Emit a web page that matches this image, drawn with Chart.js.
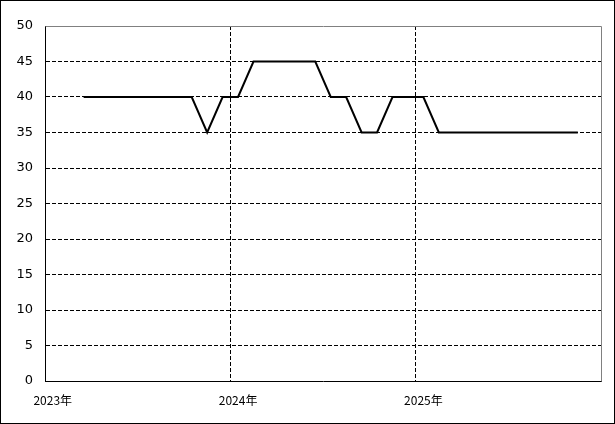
<!DOCTYPE html>
<html>
<head>
<meta charset="utf-8">
<script src="https://cdn.jsdelivr.net/npm/chart.js@4"></script>
<style>
  html, body { margin: 0; padding: 0; background: #fff; }
  #wrap { width: 615px; height: 424px; position: relative; }
</style>
</head>
<body>
<div id="wrap"><canvas id="c" width="615" height="424"></canvas></div>
<script>
// 軸のカテゴリ（2023年1月〜2025年12月の月）
const axisMonths = [];
for (let y = 2023; y <= 2025; y++) {
  for (let m = 1; m <= 12; m++) axisMonths.push(y + '-' + String(m).padStart(2, '0'));
}

// データの月と値
const dataMonths = [
  '2023-03','2023-04','2023-05','2023-06','2023-07','2023-08','2023-09','2023-10','2023-11','2023-12',
  '2024-01','2024-02','2024-03','2024-04','2024-05','2024-06','2024-07','2024-08','2024-09','2024-10',
  '2024-11','2024-12','2025-01','2025-02','2025-03','2025-04','2025-05','2025-06','2025-07','2025-08',
  '2025-09','2025-10','2025-11'
];
const values = [
  40, 40, 40, 40, 40, 40, 40, 40, 35, 40,
  40, 45, 45, 45, 45, 45, 40, 40, 35, 35,
  40, 40, 40, 35, 35, 35, 35, 35, 35, 35,
  35, 35, 35
];

const yTicks = [0, 5, 10, 15, 20, 25, 30, 35, 40, 45, 50];

// 外枠と上・右のグレー枠
const framePlugin = {
  id: 'framePlugin',
  afterDraw(chart) {
    const { ctx, chartArea: a, width, height } = chart;
    ctx.save();
    ctx.lineWidth = 1;
    ctx.strokeStyle = '#808080';
    ctx.beginPath();
    ctx.moveTo(Math.round(a.left) + 0.5, Math.round(a.top) + 0.5);
    ctx.lineTo(Math.round(a.right) + 0.5, Math.round(a.top) + 0.5);
    ctx.lineTo(Math.round(a.right) + 0.5, Math.round(a.bottom) + 0.5);
    ctx.stroke();
    ctx.strokeStyle = '#000';
    ctx.strokeRect(0.5, 0.5, width - 1, height - 1);
    ctx.restore();
  }
};

new Chart(document.getElementById('c'), {
  type: 'line',
  data: {
    labels: axisMonths,
    datasets: [{
      data: dataMonths.map((m, i) => ({ x: m, y: values[i] })),
      borderColor: '#000',
      borderWidth: 2,
      pointRadius: 0,
      tension: 0,
      fill: false
    }]
  },
  options: {
    responsive: false,
    animation: false,
    layout: { padding: { top: 26, right: 14, bottom: 0, left: 0 } },
    plugins: { legend: { display: false }, tooltip: { enabled: false } },
    scales: {
      x: {
        type: 'category',
        offset: true,
        afterFit: s => { s.height = 43; },
        grid: {
          offset: true,
          drawTicks: false,
          color: ctx => {
            const t = ctx.tick;
            if (!t || ctx.index === 0) return 'rgba(0,0,0,0)';
            return axisMonths[ctx.index].endsWith('-01') ? '#000' : 'rgba(0,0,0,0)';
          }
        },
        border: { display: true, color: '#000', width: 1, dash: [4, 2] },
        ticks: {
          autoSkip: false,
          maxRotation: 0,
          padding: 12,
          color: '#000',
          font: { family: '"Noto Sans CJK JP", "DejaVu Sans", sans-serif', size: 12 },
          callback: (v, i) => axisMonths[i].endsWith('-01') ? axisMonths[i].slice(0, 4) + '年' : ''
        }
      },
      y: {
        min: 0,
        max: 50,
        afterFit: s => { s.width = 45; },
        afterBuildTicks: s => { s.ticks = yTicks.map(v => ({ value: v })); },
        grid: {
          drawTicks: false,
          color: ctx => (ctx.tick && ctx.tick.value > 0 && ctx.tick.value < 50) ? '#000' : 'rgba(0,0,0,0)'
        },
        border: { display: true, color: '#000', width: 1, dash: [4, 2] },
        ticks: {
          padding: 12,
          color: '#000',
          font: { family: '"DejaVu Sans", sans-serif', size: 13 }
        }
      }
    }
  },
  plugins: [framePlugin]
});
</script>
</body>
</html>
